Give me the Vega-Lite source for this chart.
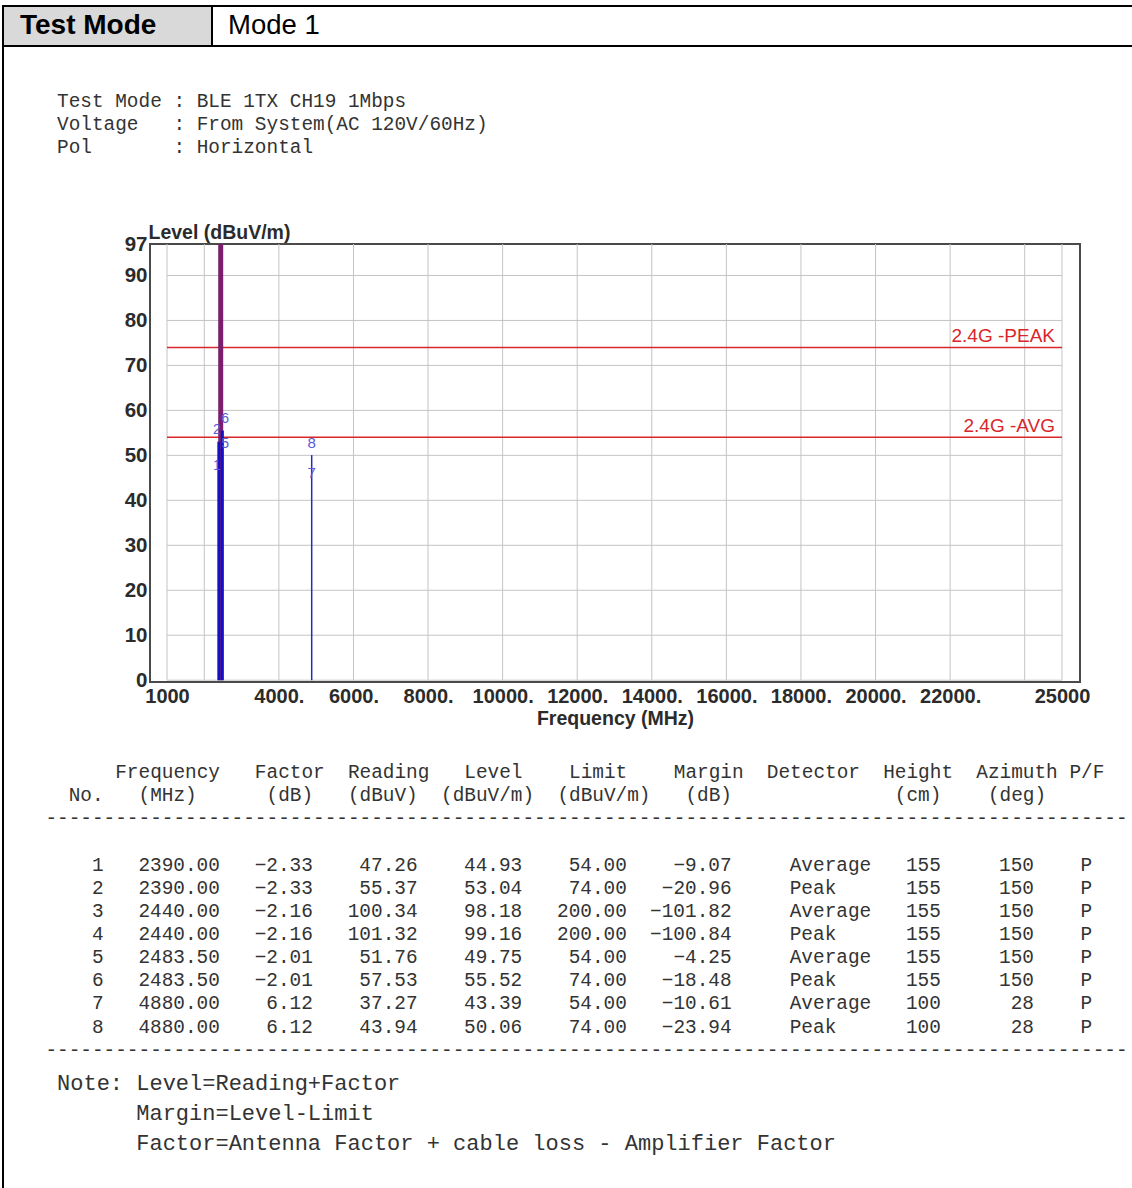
{
  "$schema": "https://vega.github.io/schema/vega-lite/v6.json",
  "width": 930,
  "height": 438,
  "autosize": {"type": "none"},
  "padding": {"left": 150, "top": 244, "right": 52, "bottom": 506},
  "background": "white",
  "config": {
    "view": {"stroke": "#4a4a4a", "strokeWidth": 2},
    "text": {"font": "Liberation Mono", "fontSize": 19.4, "color": "#333333", "baseline": "middle", "align": "left"}
  },
  "datasets": {
    "meas": [
      {"No": 1, "Frequency": 2390.00, "Factor": -2.33, "Reading": 47.26, "Level": 44.93, "Limit": 54.00, "Margin": -9.07, "Detector": "Average", "Height": 155, "Azimuth": 150, "PF": "P"},
      {"No": 2, "Frequency": 2390.00, "Factor": -2.33, "Reading": 55.37, "Level": 53.04, "Limit": 74.00, "Margin": -20.96, "Detector": "Peak", "Height": 155, "Azimuth": 150, "PF": "P"},
      {"No": 3, "Frequency": 2440.00, "Factor": -2.16, "Reading": 100.34, "Level": 98.18, "Limit": 200.00, "Margin": -101.82, "Detector": "Average", "Height": 155, "Azimuth": 150, "PF": "P"},
      {"No": 4, "Frequency": 2440.00, "Factor": -2.16, "Reading": 101.32, "Level": 99.16, "Limit": 200.00, "Margin": -100.84, "Detector": "Peak", "Height": 155, "Azimuth": 150, "PF": "P"},
      {"No": 5, "Frequency": 2483.50, "Factor": -2.01, "Reading": 51.76, "Level": 49.75, "Limit": 54.00, "Margin": -4.25, "Detector": "Average", "Height": 155, "Azimuth": 150, "PF": "P"},
      {"No": 6, "Frequency": 2483.50, "Factor": -2.01, "Reading": 57.53, "Level": 55.52, "Limit": 74.00, "Margin": -18.48, "Detector": "Peak", "Height": 155, "Azimuth": 150, "PF": "P"},
      {"No": 7, "Frequency": 4880.00, "Factor": 6.12, "Reading": 37.27, "Level": 43.39, "Limit": 54.00, "Margin": -10.61, "Detector": "Average", "Height": 100, "Azimuth": 28, "PF": "P"},
      {"No": 8, "Frequency": 4880.00, "Factor": 6.12, "Reading": 43.94, "Level": 50.06, "Limit": 74.00, "Margin": -23.94, "Detector": "Peak", "Height": 100, "Azimuth": 28, "PF": "P"}
    ],
    "ygrid": [{"level": 0}, {"level": 10}, {"level": 20}, {"level": 30}, {"level": 40}, {"level": 50}, {"level": 60}, {"level": 70}, {"level": 80}, {"level": 90}],
    "xgrid": [{"freq": 1000}, {"freq": 2000}, {"freq": 4000}, {"freq": 6000}, {"freq": 8000}, {"freq": 10000}, {"freq": 12000}, {"freq": 14000}, {"freq": 16000}, {"freq": 18000}, {"freq": 20000}, {"freq": 22000}, {"freq": 24000}, {"freq": 25000}],
    "limits": [{"name": "2.4G -PEAK", "limit": 74}, {"name": "2.4G -AVG", "limit": 54}],
    "header": [{"label": "Test Mode", "value": "Mode 1"}],
    "report": [
      {"line": 0, "text": "\u200b\u00a0Test\u00a0Mode\u00a0:\u00a0BLE\u00a01TX\u00a0CH19\u00a01Mbps"},
      {"line": 1, "text": "\u200b\u00a0Voltage\u00a0\u00a0\u00a0:\u00a0From\u00a0System(AC\u00a0120V/60Hz)"},
      {"line": 2, "text": "\u200b\u00a0Pol\u00a0\u00a0\u00a0\u00a0\u00a0\u00a0\u00a0:\u00a0Horizontal"},
      {"line": 29, "text": "\u200b\u00a0\u00a0\u00a0\u00a0\u00a0\u00a0Frequency\u00a0\u00a0\u00a0Factor\u00a0\u00a0Reading\u00a0\u00a0\u00a0Level\u00a0\u00a0\u00a0\u00a0Limit\u00a0\u00a0\u00a0\u00a0Margin\u00a0\u00a0Detector\u00a0\u00a0Height\u00a0\u00a0Azimuth\u00a0P/F"},
      {"line": 30, "text": "\u200b\u00a0\u00a0No.\u00a0\u00a0\u00a0(MHz)\u00a0\u00a0\u00a0\u00a0\u00a0\u00a0(dB)\u00a0\u00a0\u00a0(dBuV)\u00a0\u00a0(dBuV/m)\u00a0\u00a0(dBuV/m)\u00a0\u00a0\u00a0(dB)\u00a0\u00a0\u00a0\u00a0\u00a0\u00a0\u00a0\u00a0\u00a0\u00a0\u00a0\u00a0\u00a0\u00a0(cm)\u00a0\u00a0\u00a0\u00a0(deg)"},
      {"line": 31, "text": "---------------------------------------------------------------------------------------------"},
      {"line": 41, "text": "---------------------------------------------------------------------------------------------"}
    ],
    "notes": [
      {"line": 0, "text": "Note:\u00a0Level=Reading+Factor"},
      {"line": 1, "text": "\u200b\u00a0\u00a0\u00a0\u00a0\u00a0\u00a0Margin=Level-Limit"},
      {"line": 2, "text": "\u200b\u00a0\u00a0\u00a0\u00a0\u00a0\u00a0Factor=Antenna\u00a0Factor\u00a0+\u00a0cable\u00a0loss\u00a0-\u00a0Amplifier\u00a0Factor"}
    ]
  },
  "resolve": {"scale": {"x": "independent", "y": "independent"}, "axis": {"x": "independent", "y": "independent"}},
  "layer": [
    {
      "data": {"name": "ygrid"},
      "mark": {"type": "rule", "color": "#c4c4c4", "strokeWidth": 1},
      "encoding": {
        "y": {"field": "level", "type": "quantitative", "scale": {"domain": [-0.4, 97], "nice": false, "zero": false},
          "axis": {"orient": "left", "title": "Level (dBuV/m)", "values": [0, 10, 20, 30, 40, 50, 60, 70, 80, 90, 97], "format": "d", "grid": false, "ticks": false, "domain": false,
            "labelFont": "Liberation Sans", "labelFontSize": 20.5, "labelFontWeight": "bold", "labelColor": "#2b2b2b", "labelPadding": 3, "labelFlush": false, "labelOverlap": false,
            "titleAngle": 0, "titleAlign": "left", "titleBaseline": "alphabetic", "titleX": -2, "titleY": -6,
            "titleFont": "Liberation Sans", "titleFontSize": 19.5, "titleFontWeight": "bold", "titleColor": "#2b2b2b"}},
        "x": {"datum": 1000, "type": "quantitative", "scale": {"domain": [544, 25483], "nice": false, "zero": false}, "axis": null},
        "x2": {"datum": 25000}
      }
    },
    {
      "data": {"name": "xgrid"},
      "mark": {"type": "rule", "color": "#c4c4c4", "strokeWidth": 1},
      "encoding": {
        "x": {"field": "freq", "type": "quantitative", "scale": {"domain": [544, 25483], "nice": false, "zero": false},
          "axis": {"orient": "bottom", "title": "Frequency (MHz)", "values": [1000, 2000, 4000, 6000, 8000, 10000, 12000, 14000, 16000, 18000, 20000, 22000, 24000, 25000], "format": "d",
            "labelExpr": "(datum.value == 2000 || datum.value == 24000) ? '' : ((datum.value == 1000 || datum.value == 25000) ? datum.label : datum.label + '.')",
            "grid": false, "ticks": false, "domain": false,
            "labelFont": "Liberation Sans", "labelFontSize": 20, "labelFontWeight": "bold", "labelColor": "#2b2b2b", "labelPadding": 4, "labelFlush": false, "labelOverlap": false, "labelBound": false,
            "titleFont": "Liberation Sans", "titleFontSize": 19.5, "titleFontWeight": "bold", "titleColor": "#2b2b2b", "titlePadding": 3}},
        "y": {"datum": 0, "type": "quantitative", "scale": {"domain": [-0.4, 97], "nice": false, "zero": false}, "axis": null},
        "y2": {"datum": 97}
      }
    },
    {
      "data": {"name": "limits"},
      "mark": {"type": "rule", "color": "#d9262b", "strokeWidth": 1.5},
      "encoding": {
        "y": {"field": "limit", "type": "quantitative", "scale": {"domain": [-0.4, 97], "nice": false, "zero": false}, "axis": null},
        "x": {"datum": 1000, "type": "quantitative", "scale": {"domain": [544, 25483], "nice": false, "zero": false}, "axis": null},
        "x2": {"datum": 25000}
      }
    },
    {
      "data": {"name": "limits"},
      "mark": {"type": "text", "font": "Liberation Sans", "fontSize": 19, "color": "#d9262b", "align": "right", "baseline": "alphabetic", "dx": -7, "dy": -5},
      "encoding": {
        "y": {"field": "limit", "type": "quantitative", "scale": {"domain": [-0.4, 97], "nice": false, "zero": false}, "axis": null},
        "x": {"datum": 25000, "type": "quantitative", "scale": {"domain": [544, 25483], "nice": false, "zero": false}, "axis": null},
        "text": {"field": "name"}
      }
    },
    {
      "data": {"name": "meas"},
      "transform": [{"filter": "datum.Detector == 'Peak' && datum.Frequency == 2440"}],
      "mark": {"type": "rule", "color": "#7a1f6e", "strokeWidth": 5, "clip": true},
      "encoding": {
        "x": {"field": "Frequency", "type": "quantitative", "scale": {"domain": [544, 25483], "nice": false, "zero": false}, "axis": null},
        "y": {"field": "Level", "type": "quantitative", "scale": {"domain": [-0.4, 97], "nice": false, "zero": false}, "axis": null},
        "y2": {"datum": 0}
      }
    },
    {
      "data": {"name": "meas"},
      "transform": [{"filter": "datum.Detector == 'Peak' && datum.Frequency < 3000 && datum.Frequency != 2440"}],
      "mark": {"type": "rule", "color": "#1010c8", "strokeWidth": 3, "clip": true},
      "encoding": {
        "x": {"field": "Frequency", "type": "quantitative", "scale": {"domain": [544, 25483], "nice": false, "zero": false}, "axis": null},
        "y": {"field": "Level", "type": "quantitative", "scale": {"domain": [-0.4, 97], "nice": false, "zero": false}, "axis": null},
        "y2": {"datum": 0}
      }
    },
    {
      "data": {"name": "meas"},
      "transform": [{"filter": "datum.Detector == 'Peak' && datum.Frequency > 3000"}],
      "mark": {"type": "rule", "color": "#2a2ab8", "strokeWidth": 1.5, "clip": true},
      "encoding": {
        "x": {"field": "Frequency", "type": "quantitative", "scale": {"domain": [544, 25483], "nice": false, "zero": false}, "axis": null},
        "y": {"field": "Level", "type": "quantitative", "scale": {"domain": [-0.4, 97], "nice": false, "zero": false}, "axis": null},
        "y2": {"datum": 0}
      }
    },
    {
      "data": {"name": "meas"},
      "transform": [{"filter": "datum.Level <= 97 && datum.Frequency < 2440"}],
      "mark": {"type": "text", "font": "Liberation Sans", "fontSize": 14, "color": "#5a5ad2", "align": "right", "dx": 2, "dy": -12},
      "encoding": {
        "x": {"field": "Frequency", "type": "quantitative", "scale": {"domain": [544, 25483], "nice": false, "zero": false}, "axis": null},
        "y": {"field": "Level", "type": "quantitative", "scale": {"domain": [-0.4, 97], "nice": false, "zero": false}, "axis": null},
        "text": {"field": "No"}
      }
    },
    {
      "data": {"name": "meas"},
      "transform": [{"filter": "datum.Level <= 97 && datum.Frequency > 2440 && datum.Frequency < 3000"}],
      "mark": {"type": "text", "font": "Liberation Sans", "fontSize": 14, "color": "#5a5ad2", "align": "left", "dx": -1, "dy": -12},
      "encoding": {
        "x": {"field": "Frequency", "type": "quantitative", "scale": {"domain": [544, 25483], "nice": false, "zero": false}, "axis": null},
        "y": {"field": "Level", "type": "quantitative", "scale": {"domain": [-0.4, 97], "nice": false, "zero": false}, "axis": null},
        "text": {"field": "No"}
      }
    },
    {
      "data": {"name": "meas"},
      "transform": [{"filter": "datum.Level <= 97 && datum.Frequency > 3000"}],
      "mark": {"type": "text", "font": "Liberation Sans", "fontSize": 15, "color": "#5a5ad2", "align": "center", "dy": -12},
      "encoding": {
        "x": {"field": "Frequency", "type": "quantitative", "scale": {"domain": [544, 25483], "nice": false, "zero": false}, "axis": null},
        "y": {"field": "Level", "type": "quantitative", "scale": {"domain": [-0.4, 97], "nice": false, "zero": false}, "axis": null},
        "text": {"field": "No"}
      }
    },
    {
      "data": {"name": "header"},
      "layer": [
        {
          "mark": {"type": "rect", "fill": "white", "fillOpacity": 0, "stroke": "#000000", "strokeWidth": 2},
          "encoding": {
            "x": {"datum": 0, "type": "quantitative", "scale": {"domain": [0, 1, 2], "range": [-147, 62, 984], "nice": false, "zero": false}, "axis": null},
            "x2": {"datum": 2},
            "y": {"datum": 0, "type": "quantitative", "scale": {"domain": [0, 1, 2], "range": [-238, -198, 946], "nice": false, "zero": false}, "axis": null},
            "y2": {"datum": 2}
          }
        },
        {
          "mark": {"type": "rect", "fill": "#d9d9d9", "stroke": "#000000", "strokeWidth": 2},
          "encoding": {
            "x": {"datum": 0, "type": "quantitative", "scale": {"domain": [0, 1, 2], "range": [-147, 62, 984], "nice": false, "zero": false}, "axis": null},
            "x2": {"datum": 1},
            "y": {"datum": 0, "type": "quantitative", "scale": {"domain": [0, 1, 2], "range": [-238, -198, 946], "nice": false, "zero": false}, "axis": null},
            "y2": {"datum": 1}
          }
        },
        {
          "mark": {"type": "rule", "color": "#000000", "strokeWidth": 2},
          "encoding": {
            "x": {"datum": 0, "type": "quantitative", "scale": {"domain": [0, 1, 2], "range": [-147, 62, 984], "nice": false, "zero": false}, "axis": null},
            "x2": {"datum": 2},
            "y": {"datum": 1, "type": "quantitative", "scale": {"domain": [0, 1, 2], "range": [-238, -198, 946], "nice": false, "zero": false}, "axis": null}
          }
        },
        {
          "mark": {"type": "text", "font": "Liberation Sans", "fontSize": 28, "fontWeight": "bold", "color": "#000000", "dx": 17},
          "encoding": {
            "x": {"datum": 0, "type": "quantitative", "scale": {"domain": [0, 1, 2], "range": [-147, 62, 984], "nice": false, "zero": false}, "axis": null},
            "y": {"datum": 0.5, "type": "quantitative", "scale": {"domain": [0, 1, 2], "range": [-238, -198, 946], "nice": false, "zero": false}, "axis": null},
            "text": {"field": "label"}
          }
        },
        {
          "mark": {"type": "text", "font": "Liberation Sans", "fontSize": 27.5, "color": "#000000", "dx": 16},
          "encoding": {
            "x": {"datum": 1, "type": "quantitative", "scale": {"domain": [0, 1, 2], "range": [-147, 62, 984], "nice": false, "zero": false}, "axis": null},
            "y": {"datum": 0.5, "type": "quantitative", "scale": {"domain": [0, 1, 2], "range": [-238, -198, 946], "nice": false, "zero": false}, "axis": null},
            "text": {"field": "value"}
          }
        }
      ]
    },
    {
      "data": {"name": "report"},
      "mark": {"type": "text"},
      "encoding": {
        "x": {"datum": 0, "type": "quantitative", "scale": {"domain": [0, 100], "range": [-104.6, 1058.4], "nice": false, "zero": false}, "axis": null},
        "y": {"field": "line", "type": "quantitative", "scale": {"domain": [0, 40], "range": [-143, 782.6], "nice": false, "zero": false}, "axis": null},
        "text": {"field": "text"}
      }
    },
    {
      "data": {"name": "meas"},
      "encoding": {
        "y": {"field": "No", "type": "quantitative", "scale": {"domain": [1, 8], "range": [620.6, 782.6], "nice": false, "zero": false}, "axis": null}
      },
      "layer": [
        {"mark": {"type": "text", "align": "right"}, "encoding": {"x": {"datum": 5, "type": "quantitative", "scale": {"domain": [0, 100], "range": [-104.6, 1058.4], "nice": false, "zero": false}, "axis": null}, "text": {"field": "No", "type": "quantitative", "format": "d"}}},
        {"mark": {"type": "text", "align": "right"}, "encoding": {"x": {"datum": 15, "type": "quantitative", "scale": {"domain": [0, 100], "range": [-104.6, 1058.4], "nice": false, "zero": false}, "axis": null}, "text": {"field": "Frequency", "type": "quantitative", "format": ".2f"}}},
        {"mark": {"type": "text", "align": "right"}, "encoding": {"x": {"datum": 23, "type": "quantitative", "scale": {"domain": [0, 100], "range": [-104.6, 1058.4], "nice": false, "zero": false}, "axis": null}, "text": {"field": "Factor", "type": "quantitative", "format": ".2f"}}},
        {"mark": {"type": "text", "align": "right"}, "encoding": {"x": {"datum": 32, "type": "quantitative", "scale": {"domain": [0, 100], "range": [-104.6, 1058.4], "nice": false, "zero": false}, "axis": null}, "text": {"field": "Reading", "type": "quantitative", "format": ".2f"}}},
        {"mark": {"type": "text", "align": "right"}, "encoding": {"x": {"datum": 41, "type": "quantitative", "scale": {"domain": [0, 100], "range": [-104.6, 1058.4], "nice": false, "zero": false}, "axis": null}, "text": {"field": "Level", "type": "quantitative", "format": ".2f"}}},
        {"mark": {"type": "text", "align": "right"}, "encoding": {"x": {"datum": 50, "type": "quantitative", "scale": {"domain": [0, 100], "range": [-104.6, 1058.4], "nice": false, "zero": false}, "axis": null}, "text": {"field": "Limit", "type": "quantitative", "format": ".2f"}}},
        {"mark": {"type": "text", "align": "right"}, "encoding": {"x": {"datum": 59, "type": "quantitative", "scale": {"domain": [0, 100], "range": [-104.6, 1058.4], "nice": false, "zero": false}, "axis": null}, "text": {"field": "Margin", "type": "quantitative", "format": ".2f"}}},
        {"mark": {"type": "text", "align": "left"}, "encoding": {"x": {"datum": 64, "type": "quantitative", "scale": {"domain": [0, 100], "range": [-104.6, 1058.4], "nice": false, "zero": false}, "axis": null}, "text": {"field": "Detector"}}},
        {"mark": {"type": "text", "align": "right"}, "encoding": {"x": {"datum": 77, "type": "quantitative", "scale": {"domain": [0, 100], "range": [-104.6, 1058.4], "nice": false, "zero": false}, "axis": null}, "text": {"field": "Height", "type": "quantitative", "format": "d"}}},
        {"mark": {"type": "text", "align": "right"}, "encoding": {"x": {"datum": 85, "type": "quantitative", "scale": {"domain": [0, 100], "range": [-104.6, 1058.4], "nice": false, "zero": false}, "axis": null}, "text": {"field": "Azimuth", "type": "quantitative", "format": "d"}}},
        {"mark": {"type": "text", "align": "left"}, "encoding": {"x": {"datum": 89, "type": "quantitative", "scale": {"domain": [0, 100], "range": [-104.6, 1058.4], "nice": false, "zero": false}, "axis": null}, "text": {"field": "PF"}}}
      ]
    },
    {
      "data": {"name": "notes"},
      "mark": {"type": "text", "fontSize": 22},
      "encoding": {
        "x": {"datum": 1, "type": "quantitative", "scale": {"domain": [0, 100], "range": [-104.6, 1058.4], "nice": false, "zero": false}, "axis": null},
        "y": {"field": "line", "type": "quantitative", "scale": {"domain": [0, 2], "range": [839, 899], "nice": false, "zero": false}, "axis": null},
        "text": {"field": "text"}
      }
    }
  ]
}
